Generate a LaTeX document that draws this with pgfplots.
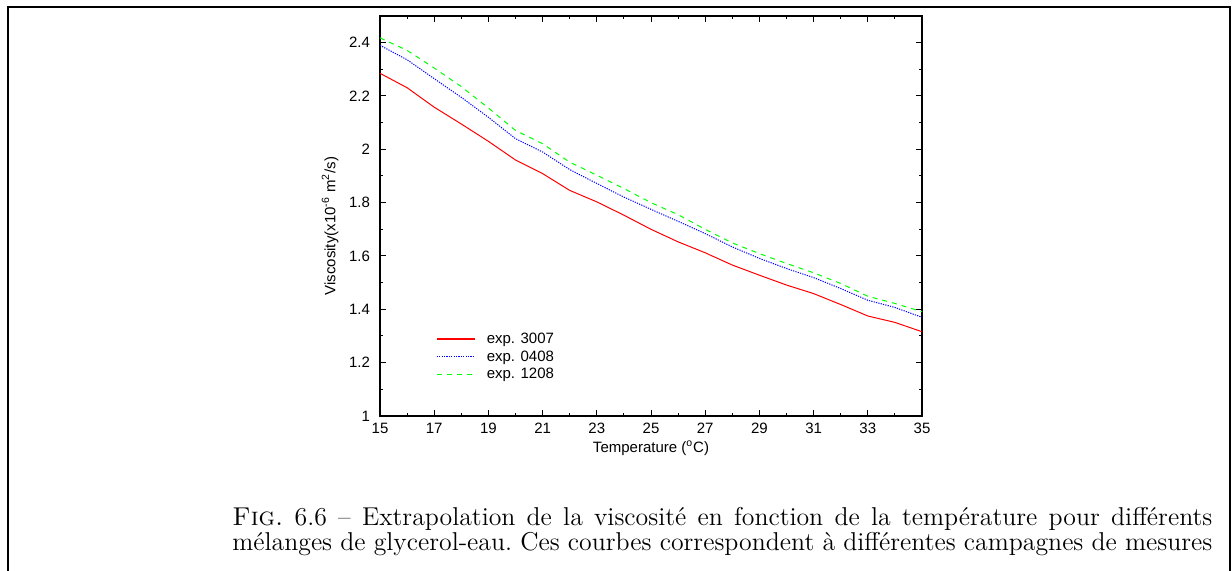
\documentclass[border=0pt]{standalone}
\usepackage{fontspec}
\usepackage{pgfplots}
\usepackage{pgfplotstable}
\pgfplotsset{compat=1.18}
\newfontfamily\axisfont{Liberation Sans}
\definecolor{gpred}{RGB}{255,0,0}
\definecolor{gpblue}{RGB}{0,0,255}
\definecolor{gpgreen}{RGB}{0,255,0}
\pgfplotstableread{
T red blue green
15 2.285 2.390 2.418
16 2.231 2.336 2.371
17 2.158 2.265 2.305
18 2.095 2.195 2.235
19 2.030 2.120 2.155
20 1.960 2.040 2.071
21 1.909 1.990 2.021
22 1.846 1.924 1.952
23 1.803 1.872 1.903
24 1.753 1.821 1.853
25 1.700 1.775 1.800
26 1.653 1.730 1.755
27 1.612 1.684 1.700
28 1.566 1.634 1.649
29 1.528 1.591 1.609
30 1.491 1.553 1.572
31 1.459 1.519 1.537
32 1.418 1.478 1.497
33 1.375 1.434 1.449
34 1.351 1.407 1.422
35 1.316 1.370 1.391
}\datatable
\begin{document}
\begin{tikzpicture}
\path[use as bounding box] (0,0) rectangle (616pt,285.5pt);
\draw[line width=1pt] (4pt,0pt) -- (4pt,282pt) -- (615pt,282pt) -- (615pt,0pt);
\begin{axis}[
  at={(190pt,277.5pt)}, anchor=north west,
  width=271pt, height=200pt, scale only axis,
  xmin=15, xmax=35, ymin=1, ymax=2.5,
  xtick={15,17,...,35}, minor x tick num=1,
  ytick={1,1.2,1.4,1.6,1.8,2,2.2,2.4},
  yticklabels={1,1.2,1.4,1.6,1.8,2,2.2,2.4},
  minor y tick num=1,
  tick align=inside,
  major tick length=3pt, minor tick length=1.5pt,
  axis line style={line width=0.6pt},
  tick style={black, line width=0.5pt},
  /pgf/number format/assume math mode=true,
  tick label style={font=\axisfont\fontsize{7.5}{9}\selectfont},
  yticklabel style={xshift=-1.5pt},
  label style={font=\axisfont\fontsize{7.5}{9}\selectfont},
  xlabel={Temperature (\textsuperscript{o}C)},
  ylabel={Viscosity(x10\textsuperscript{-6} m\textsuperscript{2}/s)},
  xlabel style={at={(axis description cs:0.5,-0.08)}, anchor=center},
  ylabel style={at={(axis description cs:-0.092,0.475)}, anchor=center, rotate=0},
  legend style={fill=none, draw=none, at={(axis cs:17.05,1.322)}, anchor=north west,
    font=\axisfont\fontsize{7.5}{9}\selectfont, inner sep=0pt,
    row sep=0.25pt, column sep=5pt,
    nodes={inner sep=0.5pt, text height=6pt, text depth=1.5pt}},
  legend cell align=left,
  legend image code/.code={\draw[#1] (0pt,0pt) -- (19pt,0pt);},
]
\addlegendimage{draw=gpred, line width=0.9pt}
\addlegendentry{exp. 3007}
\addlegendimage{draw=gpblue, line width=0.5pt, dash pattern=on 0.6pt off 0.6pt}
\addlegendentry{exp. 0408}
\addlegendimage{draw=gpgreen, line width=0.5pt, dash pattern=on 2.5pt off 2.5pt}
\addlegendentry{exp. 1208}
\addplot[color=gpred, line width=0.5pt, forget plot] table[x=T, y=red] {\datatable};
\addplot[color=gpblue, line width=0.5pt, dash pattern=on 0.6pt off 0.6pt, forget plot] table[x=T, y=blue] {\datatable};
\addplot[color=gpgreen, line width=0.5pt, dash pattern=on 2.5pt off 2.5pt, forget plot] table[x=T, y=green] {\datatable};
\end{axis}
\node[anchor=base west, inner sep=0pt] at (116pt,22.5pt) {\frenchspacing\fontsize{12.9}{15}\selectfont\makebox[490pt][s]{\textsc{Fig.} 6.6 -- Extrapolation de la viscosit\'e en fonction de la temp\'erature pour diff\'erents}};
\node[anchor=base west, inner sep=0pt] at (116pt,10pt) {\frenchspacing\fontsize{12.9}{15}\selectfont\makebox[490pt][s]{m\'elanges de glycerol-eau. Ces courbes correspondent \`a diff\'erentes campagnes de mesures}};
\end{tikzpicture}
\end{document}
